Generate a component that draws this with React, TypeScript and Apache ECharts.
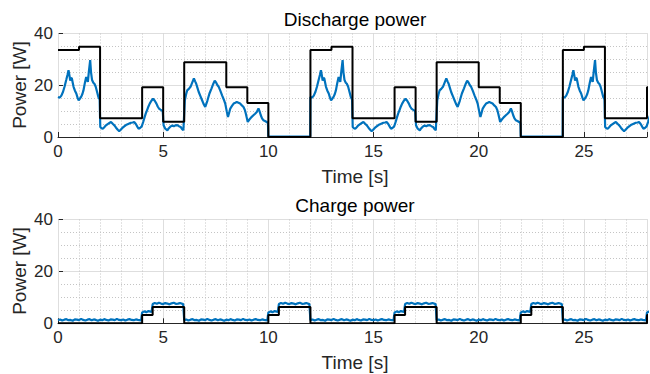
import React, { useEffect, useRef } from "react";
import * as echarts from "echarts";

const FONT = "'Liberation Sans', Arial, Helvetica, sans-serif";
const TEXT = "#262626";
const BLUE = "#0072BD";
const BLACK = "#000000";

const dischargeCycleT = [
  0.0, 0.08, 0.16, 0.24, 0.31, 0.39, 0.45, 0.5, 0.55, 0.58, 0.62, 0.66, 0.7, 0.74, 0.8, 0.87, 0.93, 0.98,
  1.04, 1.1, 1.16, 1.21, 1.28, 1.34, 1.38, 1.42, 1.47, 1.53, 1.57, 1.62, 1.68, 1.73, 1.79, 1.84, 1.92, 1.98,
  2.01, 2.07, 2.13, 2.2, 2.28, 2.36, 2.44, 2.52, 2.6, 2.68, 2.76, 2.84, 2.91, 2.98,
  3.06, 3.15, 3.23, 3.31, 3.39, 3.47, 3.55, 3.62, 3.7, 3.77, 3.83, 3.9, 3.98,
  4.05, 4.11, 4.17, 4.24, 4.3, 4.36, 4.44, 4.52, 4.6, 4.68, 4.74, 4.8, 4.87, 4.93, 4.98,
  5.02, 5.1, 5.2, 5.27, 5.35, 5.43, 5.51, 5.59, 5.67, 5.75, 5.83, 5.9, 5.96,
  6.03, 6.09, 6.14, 6.22, 6.3, 6.38, 6.46, 6.52, 6.57, 6.63, 6.69, 6.77, 6.85, 6.92,
  7.0, 7.1, 7.2, 7.3, 7.38, 7.45, 7.52, 7.58, 7.64, 7.72, 7.8, 7.88, 7.95,
  8.02, 8.08, 8.14, 8.19, 8.27, 8.35, 8.43, 8.5, 8.58, 8.66, 8.74, 8.82, 8.88, 8.93, 8.98,
  9.02, 9.08, 9.13, 9.21, 9.29, 9.37, 9.45, 9.53, 9.58, 9.64, 9.7, 9.76, 9.84, 9.92, 9.98,
  10.0, 10.5, 11.0, 11.5, 11.99,
];
const dischargeCycleW = [
  15.5, 15.2, 16.0, 17.5, 19.4, 22.0, 24.0, 25.8, 23.5, 21.8, 22.8, 22.6, 21.0, 19.4, 18.0, 16.8, 15.2, 14.2,
  14.8, 15.5, 16.6, 18.0, 21.0, 23.2, 22.0, 21.3, 25.5, 29.7, 25.0, 22.0, 21.0, 20.6, 19.5, 18.0, 15.5, 14.5,
  3.9, 3.4, 3.2, 3.8, 4.5, 5.0, 5.4, 5.8, 5.1, 4.5, 3.6, 2.8, 2.3, 2.8,
  3.5, 4.1, 4.6, 4.9, 5.2, 5.5, 5.6, 5.8, 5.0, 4.0, 3.2, 3.5, 4.1,
  5.8, 7.5, 9.0, 10.5, 11.8, 12.9, 14.0, 14.8, 14.0, 12.9, 11.8, 11.0, 10.6, 10.3, 9.8,
  4.5, 3.2, 2.6, 3.4, 4.1, 4.4, 4.2, 4.5, 4.6, 4.2, 3.9, 3.0, 2.6,
  14.2, 16.5, 18.0, 18.6, 19.4, 21.0, 22.6, 21.5, 20.6, 19.0, 17.4, 15.8, 14.2, 12.8,
  11.6, 14.0, 16.8, 18.8, 20.5, 21.8, 21.0, 20.0, 19.4, 17.8, 16.1, 14.5, 12.9,
  10.0, 7.7, 9.5, 11.0, 12.0, 12.9, 13.2, 13.5, 13.2, 12.9, 12.2, 11.6, 10.5, 9.0, 7.2,
  5.8, 6.5, 7.1, 7.8, 8.4, 9.0, 9.7, 11.0, 10.0, 8.4, 7.2, 6.5, 6.2, 5.8, 5.5,
  0.2, 0.2, 0.2, 0.2, 0.2,
];
// Discharge reference (step levels)
const dischargeRefT = [0, 1, 2, 4, 5, 6, 8, 9, 10];
const dischargeRefW = [33.6, 34.9, 7.2, 19.2, 5.9, 28.9, 19.2, 13.1, 0];
const dischargeCycleStarts = [0, 12, 24];

// ---- Charge power: one 6 s cycle of the measured trace
const chargeCycleT = [
  0.0, 0.1, 0.2, 0.3, 0.4, 0.5, 0.6, 0.7, 0.8, 0.9, 1.0, 1.1, 1.2, 1.3, 1.4, 1.5, 1.6, 1.7, 1.8, 1.9,
  2.0, 2.1, 2.2, 2.3, 2.4, 2.5, 2.6, 2.7, 2.8, 2.9, 3.0, 3.1, 3.2, 3.3, 3.4, 3.5, 3.6, 3.7, 3.8, 3.95,
  4.0, 4.1, 4.2, 4.3, 4.45, 4.5, 4.6, 4.7, 4.8, 4.9, 5.0, 5.1, 5.2, 5.3, 5.4, 5.5, 5.6, 5.7, 5.8, 5.95,
];
const chargeCycleW = [
  1.2, 1.5, 1.1, 1.4, 1.6, 1.2, 1.3, 1.0, 1.5, 1.4, 1.2, 1.7, 1.3, 1.1, 1.4, 1.6, 1.2, 1.5, 1.3, 1.0,
  1.4, 1.2, 1.6, 1.3, 1.1, 1.5, 1.4, 1.2, 1.7, 1.3, 1.2, 1.5, 1.1, 1.4, 1.6, 1.3, 1.2, 1.5, 1.3, 1.1,
  4.2, 4.6, 4.3, 4.7, 4.4, 7.4, 7.8, 7.5, 7.9, 7.6, 7.4, 7.8, 7.6, 7.3, 7.7, 7.9, 7.5, 7.6, 7.8, 7.4,
];
const chargeRefT = [0, 4, 4.5];
const chargeRefW = [0, 3.2, 6.3];
const chargeCycleStarts = [0, 6, 12, 18, 24];

const T_END = 28.6;
const X_MAX = 28;

function buildCycles(ts: number[], ws: number[], starts: number[], extendEnd: boolean) {
  const out: [number, number][] = [];
  for (const s of starts) {
    for (let i = 0; i < ts.length; i++) {
      const t = +(s + ts[i]).toFixed(3);
      if (t <= T_END) out.push([t, ws[i]]);
    }
  }
  if (extendEnd && out.length) out.push([T_END, out[out.length - 1][1]]);
  return out;
}

function xAxisCfg(gridIndex: number) {
  return {
    type: "value",
    gridIndex,
    min: 0,
    max: X_MAX,
    interval: 5,
    position: "bottom",
    axisLine: { show: true, onZero: false, lineStyle: { color: TEXT, width: 1 } },
    axisTick: { show: true, inside: true, length: 5, lineStyle: { color: TEXT } },
    axisLabel: {
      fontSize: 17,
      fontFamily: FONT,
      color: TEXT,
      margin: 6,
      formatter: (v: number) => (v % 5 !== 0 ? "" : String(v)),
    },
    splitLine: { show: true, lineStyle: { color: "#dedede", width: 1 } },
    z: 2,
  };
}

// hidden axis used only for the 1 s dotted minor grid
function xMinorAxisCfg(gridIndex: number) {
  return {
    type: "value",
    gridIndex,
    min: 0,
    max: X_MAX,
    interval: 1,
    position: "bottom",
    axisLine: { show: false },
    axisTick: { show: false },
    axisLabel: { show: false },
    splitLine: { show: true, lineStyle: { color: "#c4c4c4", width: 1, type: [1, 2] } },
    z: 1,
  };
}

function yAxisCfg(gridIndex: number) {
  return {
    type: "value",
    gridIndex,
    min: 0,
    max: 40,
    interval: 20,
    axisLine: { show: true, onZero: false, lineStyle: { color: TEXT, width: 1 } },
    axisTick: { show: true, inside: true, length: 5, lineStyle: { color: TEXT } },
    axisLabel: { fontSize: 17, fontFamily: FONT, color: TEXT, margin: 5 },
    splitLine: { show: true, lineStyle: { color: "#dedede", width: 1 } },
    minorTick: { show: false, splitNumber: 4 },
    minorSplitLine: { show: true, lineStyle: { color: "#c4c4c4", width: 1, type: [1, 2] } },
  };
}

function label(text: string, x: number, y: number, size: number, color: string, rotation = 0) {
  return {
    type: "text",
    x,
    y,
    rotation,
    silent: true,
    style: {
      text,
      fontSize: size,
      fontFamily: FONT,
      fill: color,
      align: "center",
      verticalAlign: "middle",
    },
  };
}

export default function App() {
  const ref = useRef<HTMLDivElement>(null);
  useEffect(() => {
    if (!ref.current) return;
    const chart = echarts.init(ref.current, null, { renderer: "svg" });
    const option: any = {
      animation: false,
      backgroundColor: "#ffffff",
      grid: [
        { left: 58, top: 33.5, right: 0, height: 103.5, containLabel: false },
        { left: 58, top: 219.5, right: 0, height: 103.8, containLabel: false },
      ],
      xAxis: [xAxisCfg(0), xAxisCfg(1), xMinorAxisCfg(0), xMinorAxisCfg(1)],
      yAxis: [yAxisCfg(0), yAxisCfg(1)],
      series: [
        {
          type: "line",
          xAxisIndex: 0,
          yAxisIndex: 0,
          showSymbol: false,
          lineStyle: { color: BLUE, width: 2.2 },
          data: buildCycles(dischargeCycleT, dischargeCycleW, dischargeCycleStarts, false),
        },
        {
          type: "line",
          xAxisIndex: 0,
          yAxisIndex: 0,
          step: "end",
          showSymbol: false,
          lineStyle: { color: BLACK, width: 2 },
          data: buildCycles(dischargeRefT, dischargeRefW, dischargeCycleStarts, true),
        },
        {
          type: "line",
          xAxisIndex: 1,
          yAxisIndex: 1,
          showSymbol: false,
          lineStyle: { color: BLUE, width: 2.2 },
          data: buildCycles(chargeCycleT, chargeCycleW, chargeCycleStarts, false),
        },
        {
          type: "line",
          xAxisIndex: 1,
          yAxisIndex: 1,
          step: "end",
          showSymbol: false,
          lineStyle: { color: BLACK, width: 2 },
          data: buildCycles(chargeRefT, chargeRefW, chargeCycleStarts, true),
        },
      ],
      graphic: [
        label("Discharge power", 355, 19, 19, BLACK),
        label("Charge power", 355, 205, 19, BLACK),
        label("Time [s]", 355, 176.5, 19, TEXT),
        label("Time [s]", 355, 362.5, 19, TEXT),
        label("Power [W]", 19.5, 85, 19, TEXT, Math.PI / 2),
        label("Power [W]", 19.5, 271, 19, TEXT, Math.PI / 2),
      ],
    };
    chart.setOption(option);
    return () => chart.dispose();
  }, []);
  return (
    <div
      ref={ref}
      style={{ position: "absolute", left: 0, top: 0, width: 650, height: 374, overflow: "hidden" }}
    />
  );
}
